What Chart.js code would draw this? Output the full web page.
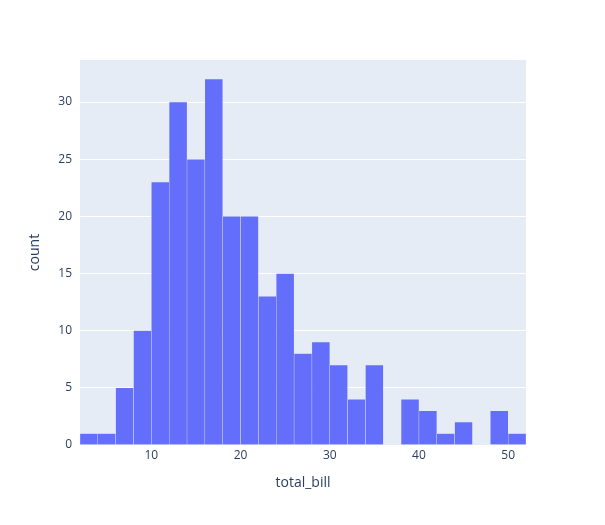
<!DOCTYPE html>
<html>
<head>
<meta charset="utf-8">
<script src="https://cdn.jsdelivr.net/npm/chart.js@4.4.1/dist/chart.umd.min.js"></script>
<style>
  html, body { margin: 0; padding: 0; background: #fff; }
  #wrap { width: 605px; height: 525px; }
</style>
</head>
<body>
<div id="wrap"><canvas id="histChart" width="605" height="525"></canvas></div>
<script>
// histogram of total_bill, bins of width 2 starting at 2
const binStarts = [2, 4, 6, 8, 10, 12, 14, 16, 18, 20, 22, 24, 26, 28, 30, 32, 34, 36, 38, 40, 42, 44, 46, 48, 50];
const counts = [1, 1, 5, 10, 23, 30, 25, 32, 20, 20, 13, 15, 8, 9, 7, 4, 7, 0, 4, 3, 1, 2, 0, 3, 1];
const binWidth = 2;
const xTicks = [10, 20, 30, 40, 50];
const yTicks = [0, 5, 10, 15, 20, 25, 30];

const fontFamily = '"Open Sans", verdana, arial, sans-serif';
const textColor = '#2a3f5f';

const plotBg = {
    id: 'plotBg',
    beforeDraw(chart) {
        const { ctx, chartArea } = chart;
        ctx.save();
        ctx.fillStyle = '#e5ecf6';
        ctx.fillRect(chartArea.left, chartArea.top, chartArea.right - chartArea.left, chartArea.bottom - chartArea.top);
        ctx.restore();
    }
};

const ctx = document.getElementById('histChart').getContext('2d');
const histChart = new Chart(ctx, {
    type: 'bar',
    data: {
        datasets: [{
            label: 'count',
            data: binStarts.map((b, i) => ({ x: b + binWidth / 2, y: counts[i] })),
            backgroundColor: '#636efa',
            borderColor: 'rgba(229,236,246,0.55)',
            borderWidth: 0.5,
            barPercentage: 1,
            categoryPercentage: 1
        }]
    },
    options: {
        responsive: false,
        animation: false,
        layout: { padding: { left: 0, right: 79, top: 60, bottom: 0 } },
        plugins: { legend: { display: false }, tooltip: { enabled: false } },
        scales: {
            x: {
                type: 'linear',
                min: 2,
                max: 52,
                offset: false,
                afterFit(scale) { scale.height = 80; },
                afterBuildTicks(scale) { scale.ticks = xTicks.map(v => ({ value: v })); },
                grid: { display: false, drawTicks: false },
                border: { display: false },
                ticks: { color: textColor, font: { family: fontFamily, size: 12 }, padding: 3, maxRotation: 0 },
                title: { display: true, text: 'total_bill', color: textColor, font: { family: fontFamily, size: 14 }, padding: { top: 0, bottom: 34 } }
            },
            y: {
                min: 0,
                max: 33.68,
                afterFit(scale) { scale.width = 80; },
                afterBuildTicks(scale) { scale.ticks = yTicks.map(v => ({ value: v })); },
                grid: { color: '#ffffff', lineWidth: 1, drawTicks: false },
                border: { display: false },
                ticks: { color: textColor, font: { family: fontFamily, size: 12 }, padding: 8 },
                title: { display: true, text: 'count', color: textColor, font: { family: fontFamily, size: 14 }, padding: { top: 27, bottom: 0 } }
            }
        }
    },
    plugins: [plotBg]
});
</script>
</body>
</html>
